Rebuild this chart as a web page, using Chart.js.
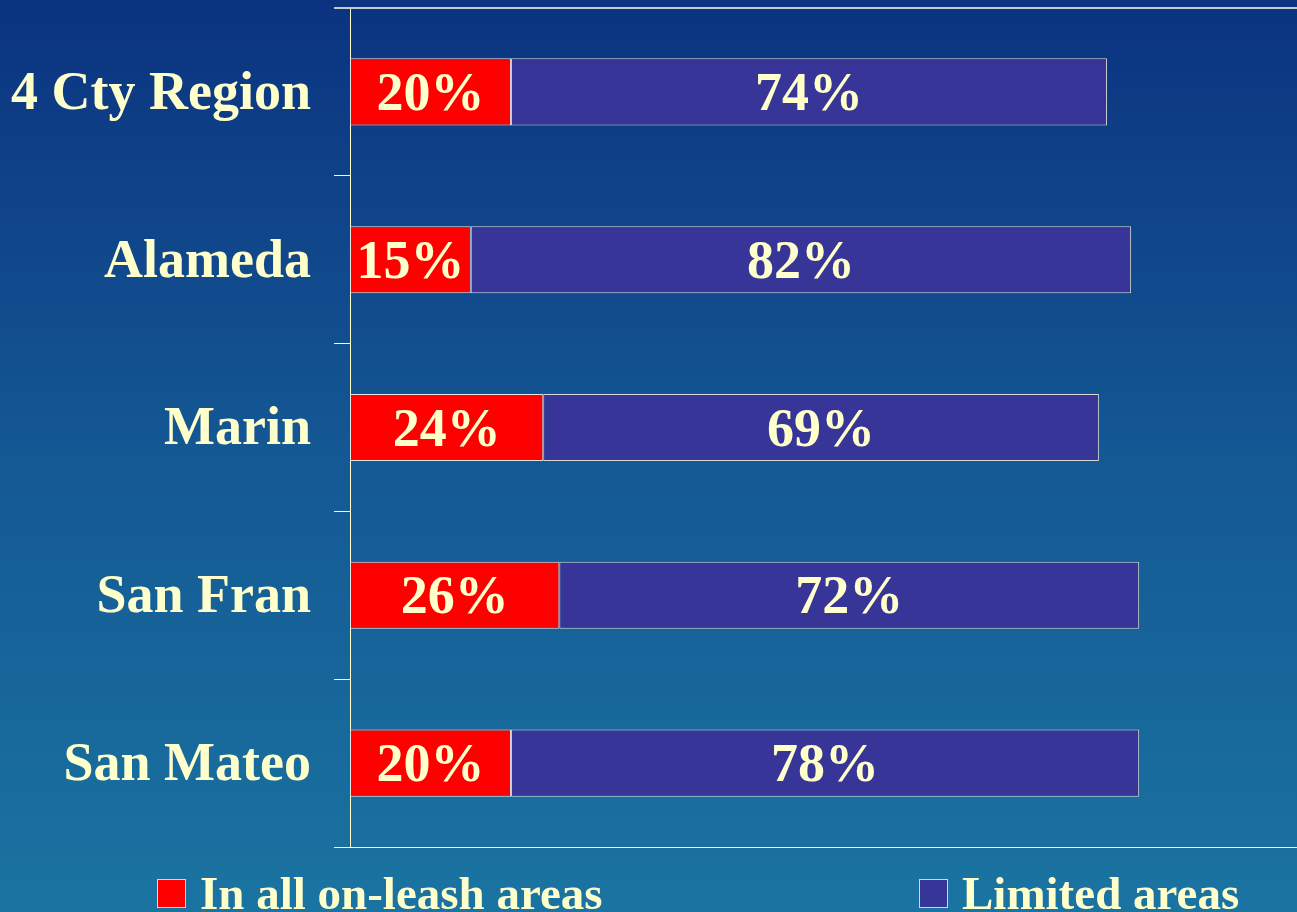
<!DOCTYPE html>
<html>
<head>
<meta charset="utf-8">
<script src="https://cdn.jsdelivr.net/npm/chart.js@4"></script>
<style>
html,body{margin:0;padding:0;background:#0b3480;overflow:hidden;}
canvas{display:block;}
</style>
</head>
<body>
<canvas id="c" width="1297" height="912"></canvas>
<script>
const categories = ['4 Cty Region', 'Alameda', 'Marin', 'San Fran', 'San Mateo'];
const onLeash = [20, 15, 24, 26, 20];
const limited = [74, 82, 69, 72, 78];
const seriesLabels = ['In all on-leash areas', 'Limited areas'];
const seriesColors = ['#ff0000', '#373597'];

const TEXT = '#ffffcc';
const FONT = "'Liberation Serif', 'Times New Roman', serif";

const bgPlugin = {
  id: 'bg',
  beforeDraw(chart) {
    const ctx = chart.ctx;
    const g = ctx.createLinearGradient(0, 0, 0, chart.height);
    g.addColorStop(0, '#0b3380');
    g.addColorStop(0.5, '#145894');
    g.addColorStop(1, '#1a74a1');
    ctx.save();
    ctx.fillStyle = g;
    ctx.fillRect(0, 0, chart.width, chart.height);
    ctx.restore();
  }
};

const labelPlugin = {
  id: 'barLabels',
  afterDatasetsDraw(chart) {
    const ctx = chart.ctx;
    ctx.save();
    ctx.fillStyle = TEXT;
    ctx.font = 'bold 54px ' + FONT;
    ctx.textAlign = 'center';
    ctx.textBaseline = 'alphabetic';
    chart.data.datasets.forEach((ds, di) => {
      const meta = chart.getDatasetMeta(di);
      meta.data.forEach((el, i) => {
        const p = el.getProps(['x', 'y', 'base'], true);
        const cx = (p.x + p.base) / 2;
        ctx.fillText(ds.data[i] + '%', cx, p.y + 18);
      });
    });
    ctx.restore();
  },
  afterDraw(chart) {
    const ctx = chart.ctx;
    const a = chart.chartArea;
    ctx.save();
    // top frame line
    ctx.strokeStyle = '#c4c8d0';
    ctx.lineWidth = 2;
    ctx.beginPath();
    ctx.moveTo(334, a.top);
    ctx.lineTo(chart.width, a.top);
    ctx.stroke();
    // legend
    const items = [{x: 157, tx: 200}, {x: 919, tx: 962}];
    ctx.font = 'bold 47px ' + FONT;
    ctx.textAlign = 'left';
    ctx.textBaseline = 'alphabetic';
    chart.data.datasets.forEach((ds, i) => {
      const it = items[i];
      ctx.fillStyle = ds.backgroundColor;
      ctx.fillRect(it.x, 879, 29, 29);
      ctx.strokeStyle = '#d8d8c8';
      ctx.lineWidth = 1;
      ctx.strokeRect(it.x + 0.5, 879.5, 28, 28);
      ctx.fillStyle = TEXT;
      ctx.fillText(ds.label, it.tx, 909);
    });
    ctx.restore();
  }
};

new Chart(document.getElementById('c'), {
  type: 'bar',
  data: {
    labels: categories,
    datasets: [
      { label: seriesLabels[0], data: onLeash, backgroundColor: seriesColors[0], borderColor: '#e4e4e4', borderWidth: 1, borderSkipped: false, barPercentage: 0.4, categoryPercentage: 1 },
      { label: seriesLabels[1], data: limited, backgroundColor: seriesColors[1], borderColor: '#d8d8d8', borderWidth: 1, borderSkipped: false, barPercentage: 0.4, categoryPercentage: 1 }
    ]
  },
  options: {
    indexAxis: 'y',
    responsive: false,
    animation: false,
    events: [],
    layout: { padding: { top: 8, bottom: 65, left: 0, right: 0 } },
    plugins: { legend: { display: false }, tooltip: { enabled: false } },
    scales: {
      x: {
        stacked: true, min: 0, max: 117.6,
        ticks: { display: false },
        grid: { display: false, drawTicks: false },
        border: { display: true, color: TEXT, width: 1 },
        afterFit(s) { s.height = 0; s.paddingLeft = 0; s.paddingRight = 0; }
      },
      y: {
        stacked: true,
        offset: true,
        grid: { offset: true, drawOnChartArea: false, drawTicks: true, tickLength: 16, color: TEXT, lineWidth: 1 },
        border: { display: true, color: TEXT, width: 1 },
        ticks: { color: TEXT, font: { family: FONT, weight: 'bold', size: 54 }, padding: 23, labelOffset: 3 },
        afterFit(s) { s.width = 350; s.paddingTop = 0; s.paddingBottom = 0; }
      }
    }
  },
  plugins: [bgPlugin, labelPlugin]
});
</script>
</body>
</html>
